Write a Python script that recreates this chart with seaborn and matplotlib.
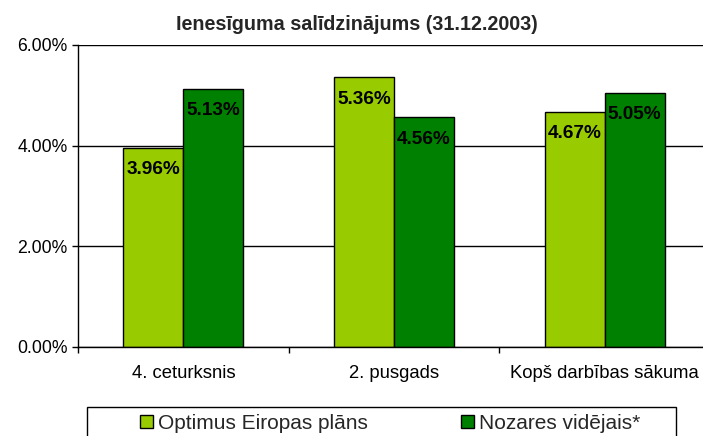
import matplotlib
matplotlib.use('Agg')
import matplotlib.pyplot as plt
import matplotlib.patches as mpatches
import seaborn as sns
import pandas as pd

# chart data (yields in %)
periods = ['4. ceturksnis', '2. pusgads', 'Kopš darbības sākuma']
series = ['Optimus Eiropas plāns', 'Nozares vidējais*']
optimus = [3.96, 5.36, 4.67]
nozares = [5.13, 4.56, 5.05]
colors = ['#99CC00', '#008000']
yticks = [0, 2, 4, 6]

df = pd.DataFrame({
    'period': periods * 2,
    'series': [series[0]] * 3 + [series[1]] * 3,
    'value': optimus + nozares,
})

sns.set_theme(style='white')
plt.rcParams['font.family'] = ['Liberation Sans', 'DejaVu Sans']

fig = plt.figure(figsize=(7.03, 4.36), dpi=100)
ax = fig.add_axes([78 / 703, 0.2048, 632 / 703, 0.692])

sns.barplot(data=df, x='period', y='value', hue='series', order=periods,
            hue_order=series, palette=colors, width=0.57,
            edgecolor='black', linewidth=1, saturation=1, ax=ax, legend=False)

for cont in ax.containers:
    ax.bar_label(cont, fmt='%.2f%%', padding=-22, fontsize=13.7,
                 fontweight='bold', color='black')

ax.set_xlim(-0.5, 2.5)
ax.set_ylim(0, 6)
ax.set_yticks(yticks)
ax.set_yticklabels([f'{v:.2f}%' for v in yticks])
ax.yaxis.grid(True, color='black', linewidth=1)
ax.set_axisbelow(True)
ax.set_xlabel('')
ax.set_ylabel('')

for s in ['top', 'right']:
    ax.spines[s].set_visible(False)
for s in ['left', 'bottom']:
    ax.spines[s].set_color('black')
    ax.spines[s].set_linewidth(1)

ax.tick_params(axis='y', left=True, length=4.5, width=1, color='black',
               pad=3, labelsize=12.7, labelcolor='black')
ax.tick_params(axis='x', which='major', bottom=False, length=0, pad=13.5,
               labelsize=13.3, labelcolor='black')
ax.set_xticks([-0.5, 0.5, 1.5, 2.5], minor=True)
ax.tick_params(axis='x', which='minor', bottom=True, length=4.5, width=1,
               color='black')

fig.suptitle('Ienesīguma salīdzinājums (31.12.2003)', x=0.508, y=0.944,
             va='center', fontsize=14.2, fontweight='bold')

# legend below the chart, box runs off the bottom edge
handles = [mpatches.Patch(facecolor=c, edgecolor='black', linewidth=1)
           for c in colors]
fig.legend(handles, series, loc='center left', bbox_to_anchor=(140 / 703, 0.0298),
           ncol=2, frameon=False, fontsize=15, borderpad=0, borderaxespad=0,
           handlelength=0.6, handleheight=0.6, handletextpad=0.25,
           columnspacing=4.5)
fig.patches.append(mpatches.Rectangle((86.5 / 703, -0.05), (676 - 86.5) / 703, 0.1167,
                                      transform=fig.transFigure, fill=False,
                                      edgecolor='black', linewidth=1))

fig.savefig('out.png', dpi=100)
